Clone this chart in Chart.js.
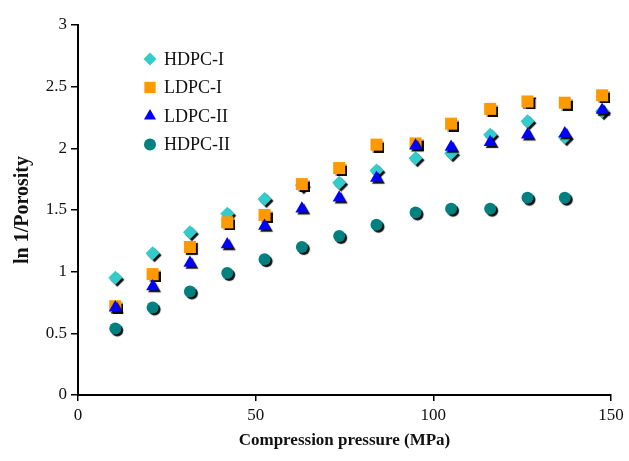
<!DOCTYPE html>
<html>
<head>
<meta charset="utf-8">
<script src="https://cdn.jsdelivr.net/npm/chart.js@4/dist/chart.umd.min.js"></script>
<style>
  html, body { margin: 0; padding: 0; background: #fff; }
  #wrap { width: 629px; height: 461px; }
</style>
</head>
<body>
<div id="wrap"><canvas id="porosity-chart" width="629" height="461"></canvas></div>
<script>
// compression pressure (MPa), same for every series
const pressure = [10.5, 21, 31.5, 42, 52.5, 63, 73.5, 84, 95, 105, 116, 126.5, 137, 147.5];

const hdpc1 = [0.95, 1.15, 1.32, 1.47, 1.59, 1.70, 1.72, 1.82, 1.92, 1.96, 2.11, 2.22, 2.09, 2.30];
const ldpc1 = [0.72, 0.98, 1.20, 1.40, 1.46, 1.71, 1.84, 2.03, 2.04, 2.20, 2.32, 2.38, 2.37, 2.43];
const ldpc2 = [0.71, 0.88, 1.07, 1.22, 1.37, 1.51, 1.60, 1.76, 2.02, 2.01, 2.05, 2.11, 2.12, 2.31];
const hdpc2 = [0.54, 0.71, 0.84, 0.99, 1.10, 1.20, 1.29, 1.38, 1.48, 1.51, 1.51, 1.60, 1.60];

const xTicks = [0, 50, 100, 150];
const yTicks = [0, 0.5, 1, 1.5, 2, 2.5, 3];

const serif = '"Liberation Serif", "Times New Roman", serif';

function toPoints(values) {
    return values.map((v, i) => ({ x: pressure[i], y: v }));
}

// black drop shadow under the markers
const markerShadow = {
    id: 'markerShadow',
    beforeDatasetsDraw(chart) {
        const ctx = chart.ctx;
        ctx.save();
        ctx.shadowColor = 'rgba(0,0,0,0.95)';
        ctx.shadowOffsetX = 2;
        ctx.shadowOffsetY = 2;
        ctx.shadowBlur = 1;
    },
    afterDatasetsDraw(chart) {
        chart.ctx.restore();
    }
};

// legend inside the plot, top left, no shadow
const innerLegend = {
    id: 'innerLegend',
    afterDraw(chart) {
        const ctx = chart.ctx;
        const x0 = chart.chartArea.left + 72;
        const y0 = chart.chartArea.top + 34;
        ctx.save();
        ctx.font = '18px ' + serif;
        ctx.textBaseline = 'middle';
        ctx.textAlign = 'left';
        chart.data.datasets.forEach((ds, i) => {
            const y = y0 + i * 28.5;
            ctx.fillStyle = ds.backgroundColor;
            Chart.helpers.drawPoint(ctx, {
                pointStyle: ds.pointStyle,
                radius: ds.legendRadius,
                rotation: 0,
                borderWidth: 0
            }, x0, y);
            ctx.fillStyle = '#111';
            ctx.fillText(ds.label, x0 + 14, y + 1);
        });
        ctx.restore();
    }
};

const ctx = document.getElementById('porosity-chart');

new Chart(ctx, {
    type: 'scatter',
    data: {
        datasets: [
            { label: 'HDPC-I', data: toPoints(hdpc1), pointStyle: 'rectRot', pointRadius: 7, legendRadius: 6.5,
              backgroundColor: '#33CCCC', order: 4 },
            { label: 'LDPC-I', data: toPoints(ldpc1), pointStyle: 'rect', pointRadius: 8.5, legendRadius: 8,
              backgroundColor: '#FF9900', order: 3 },
            { label: 'LDPC-II', data: toPoints(ldpc2), pointStyle: 'triangle', pointRadius: 7.5, legendRadius: 7,
              backgroundColor: '#0000FF', order: 2 },
            { label: 'HDPC-II', data: toPoints(hdpc2), pointStyle: 'circle', pointRadius: 6, legendRadius: 6,
              backgroundColor: '#008080', order: 1 },
        ].map(ds => Object.assign(ds, { borderWidth: 0, pointHoverRadius: ds.pointRadius, clip: false })),
    },
    options: {
        responsive: false,
        animation: false,
        layout: {
            padding: { left: 0, right: 18, top: 25, bottom: 0 }
        },
        plugins: {
            legend: { display: false },
            tooltip: { enabled: false },
        },
        scales: {
            x: {
                type: 'linear',
                min: 0,
                max: 150,
                afterBuildTicks: (scale) => { scale.ticks = xTicks.map(v => ({ value: v })); },
                afterFit: (scale) => { scale.height = 66; },
                border: { display: true, color: '#000', width: 2 },
                grid: { display: true, drawOnChartArea: false, drawTicks: true, tickLength: 6, color: '#000', lineWidth: 1.5 },
                ticks: { color: '#111', padding: 4, maxRotation: 0, font: { family: serif, size: 17 },
                         callback: (v) => String(v) },
                title: {
                    display: true,
                    text: 'Compression pressure (MPa)',
                    color: '#111',
                    font: { family: serif, size: 17, weight: 'bold' },
                    padding: { top: 0, bottom: 10 },
                },
            },
            y: {
                type: 'linear',
                min: 0,
                max: 3,
                afterBuildTicks: (scale) => { scale.ticks = yTicks.map(v => ({ value: v })); },
                afterFit: (scale) => { scale.width = 78; },
                border: { display: true, color: '#000', width: 2 },
                grid: { display: true, drawOnChartArea: false, drawTicks: true, tickLength: 7, color: '#000', lineWidth: 1.5 },
                ticks: { color: '#111', padding: 4, font: { family: serif, size: 17 },
                         callback: (v) => String(v) },
                title: {
                    display: true,
                    text: 'ln 1/Porosity',
                    color: '#111',
                    font: { family: serif, size: 20, weight: 'bold' },
                    padding: { top: 11, bottom: 0 },
                },
            },
        },
    },
    plugins: [markerShadow, innerLegend],
});
</script>
</body>
</html>
